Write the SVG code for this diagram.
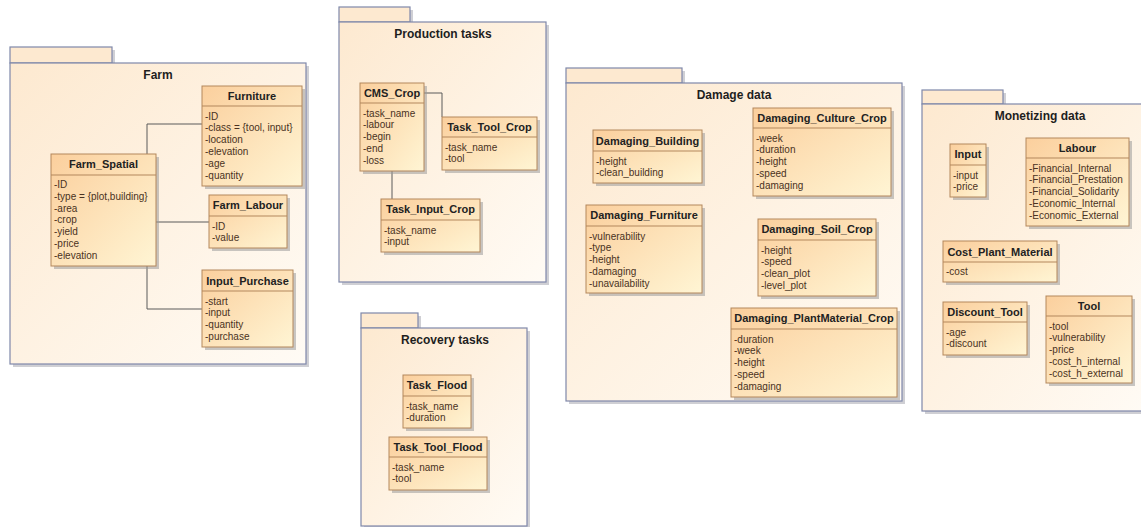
<svg xmlns="http://www.w3.org/2000/svg" width="1141" height="527" viewBox="0 0 1141 527">
<defs>
<linearGradient id="pg" x1="0" y1="0" x2="1" y2="1">
<stop offset="0" stop-color="#fde9d0"/>
<stop offset="1" stop-color="#fffbf5"/>
</linearGradient>
<linearGradient id="cg" x1="0" y1="0" x2="1" y2="1">
<stop offset="0" stop-color="#fbcf9d"/>
<stop offset="1" stop-color="#fff5d4"/>
</linearGradient>
<style>
.pkg{fill:url(#pg);stroke:#7f88aa;stroke-width:1.2}
.tab{fill:#fde9d0;stroke:#7f88aa;stroke-width:1.2}
.psh{fill:#a8a8b0;opacity:.55}
.csh{fill:#9a9a9a;opacity:.55}
.box{fill:url(#cg);stroke:#b3875c;stroke-width:1}
.sep{stroke:#b3875c;stroke-width:1}
.ptitle{font-family:"Liberation Sans",Arial,sans-serif;font-weight:bold;font-size:12px;fill:#1e1e1e;text-anchor:middle}
.title{font-family:"Liberation Sans",Arial,sans-serif;font-weight:bold;font-size:11px;fill:#222;text-anchor:middle}
.attr{font-family:"Liberation Sans",Arial,sans-serif;font-size:10px;fill:#4a3222}
.conn{fill:none;stroke:#5a5a5a;stroke-width:1}
</style>
</defs>
<rect width="1141" height="527" fill="#ffffff"/>

<!-- Packages -->
<g id="pkg-farm">
<rect class="psh" x="13" y="50" width="102" height="16"/>
<rect class="psh" x="13" y="66" width="296" height="301"/>
<rect class="tab" x="10" y="47" width="102" height="16"/>
<rect class="pkg" x="10" y="63" width="296" height="301"/>
<text class="ptitle" x="158" y="78.5">Farm</text>
</g>
<g id="pkg-production">
<rect class="psh" x="342" y="10" width="71" height="15"/>
<rect class="psh" x="342" y="25" width="207" height="260"/>
<rect class="tab" x="339" y="7" width="71" height="15"/>
<rect class="pkg" x="339" y="22" width="207" height="260"/>
<text class="ptitle" x="443" y="37.5">Production tasks</text>
</g>
<g id="pkg-recovery">
<rect class="psh" x="364" y="316" width="57" height="15"/>
<rect class="psh" x="364" y="331" width="166" height="198"/>
<rect class="tab" x="361" y="313" width="57" height="15"/>
<rect class="pkg" x="361" y="328" width="166" height="198"/>
<text class="ptitle" x="445" y="343.5">Recovery tasks</text>
</g>
<g id="pkg-damage">
<rect class="psh" x="569" y="71" width="116" height="15"/>
<rect class="psh" x="569" y="86" width="336" height="318"/>
<rect class="tab" x="566" y="68" width="116" height="15"/>
<rect class="pkg" x="566" y="83" width="336" height="318"/>
<text class="ptitle" x="734" y="98.5">Damage data</text>
</g>
<g id="pkg-monetizing">
<rect class="psh" x="925" y="93" width="81" height="14"/>
<rect class="psh" x="925" y="107" width="225" height="307"/>
<rect class="tab" x="922" y="90" width="81" height="14"/>
<rect class="pkg" x="922" y="104" width="225" height="307"/>
<text class="ptitle" x="1040" y="120">Monetizing data</text>
</g>

<!-- Connectors -->
<g id="connectors">
<path class="conn" d="M147,154 V124 H202"/>
<path class="conn" d="M156,222 H209"/>
<path class="conn" d="M147,266 V309 H202"/>
<path class="conn" d="M424,93 H442 V117"/>
<path class="conn" d="M392,171 V199"/>
</g>

<!-- Classes: Farm -->
<g id="Furniture">
<rect class="csh" x="205" y="89" width="100" height="100"/>
<rect class="box" x="202" y="86" width="100" height="100"/>
<line class="sep" x1="202" y1="106" x2="302" y2="106"/>
<text class="title" x="252" y="99.5">Furniture</text>
<text class="attr" x="205" y="119.5">-ID</text>
<text class="attr" x="205" y="131.3">-class = {tool, input}</text>
<text class="attr" x="205" y="143.1">-location</text>
<text class="attr" x="205" y="154.9">-elevation</text>
<text class="attr" x="205" y="166.7">-age</text>
<text class="attr" x="205" y="178.5">-quantity</text>
</g>
<g id="Farm_Spatial">
<rect class="csh" x="54" y="157" width="105" height="112"/>
<rect class="box" x="51" y="154" width="105" height="112"/>
<line class="sep" x1="51" y1="175" x2="156" y2="175"/>
<text class="title" x="103.5" y="168">Farm_Spatial</text>
<text class="attr" x="54" y="188">-ID</text>
<text class="attr" x="54" y="199.8">-type = {plot,building}</text>
<text class="attr" x="54" y="211.6">-area</text>
<text class="attr" x="54" y="223.4">-crop</text>
<text class="attr" x="54" y="235.2">-yield</text>
<text class="attr" x="54" y="247">-price</text>
<text class="attr" x="54" y="258.8">-elevation</text>
</g>
<g id="Farm_Labour">
<rect class="csh" x="212" y="198" width="78" height="53"/>
<rect class="box" x="209" y="195" width="78" height="53"/>
<line class="sep" x1="209" y1="216" x2="287" y2="216"/>
<text class="title" x="248" y="209">Farm_Labour</text>
<text class="attr" x="212" y="229.5">-ID</text>
<text class="attr" x="212" y="241.3">-value</text>
</g>
<g id="Input_Purchase">
<rect class="csh" x="205" y="273" width="91" height="77"/>
<rect class="box" x="202" y="270" width="91" height="77"/>
<line class="sep" x1="202" y1="291" x2="293" y2="291"/>
<text class="title" x="247.5" y="284.5">Input_Purchase</text>
<text class="attr" x="205" y="304.5">-start</text>
<text class="attr" x="205" y="316.3">-input</text>
<text class="attr" x="205" y="328.1">-quantity</text>
<text class="attr" x="205" y="339.9">-purchase</text>
</g>

<!-- Production tasks -->
<g id="CMS_Crop">
<rect class="csh" x="363" y="86" width="64" height="88"/>
<rect class="box" x="360" y="83" width="64" height="88"/>
<line class="sep" x1="360" y1="103" x2="424" y2="103"/>
<text class="title" x="392" y="97">CMS_Crop</text>
<text class="attr" x="363" y="116.5">-task_name</text>
<text class="attr" x="363" y="128.3">-labour</text>
<text class="attr" x="363" y="140.1">-begin</text>
<text class="attr" x="363" y="151.9">-end</text>
<text class="attr" x="363" y="163.7">-loss</text>
</g>
<g id="Task_Tool_Crop">
<rect class="csh" x="445" y="120" width="95" height="53"/>
<rect class="box" x="442" y="117" width="95" height="53"/>
<line class="sep" x1="442" y1="137" x2="537" y2="137"/>
<text class="title" x="489.5" y="131">Task_Tool_Crop</text>
<text class="attr" x="445" y="150.5">-task_name</text>
<text class="attr" x="445" y="162.3">-tool</text>
</g>
<g id="Task_Input_Crop">
<rect class="csh" x="384" y="202" width="99" height="53"/>
<rect class="box" x="381" y="199" width="99" height="53"/>
<line class="sep" x1="381" y1="220" x2="480" y2="220"/>
<text class="title" x="430.5" y="213">Task_Input_Crop</text>
<text class="attr" x="384" y="233.5">-task_name</text>
<text class="attr" x="384" y="245.3">-input</text>
</g>

<!-- Recovery tasks -->
<g id="Task_Flood">
<rect class="csh" x="406" y="378" width="68" height="53"/>
<rect class="box" x="403" y="375" width="68" height="53"/>
<line class="sep" x1="403" y1="396" x2="471" y2="396"/>
<text class="title" x="437" y="389">Task_Flood</text>
<text class="attr" x="406" y="409.5">-task_name</text>
<text class="attr" x="406" y="421.3">-duration</text>
</g>
<g id="Task_Tool_Flood">
<rect class="csh" x="392" y="440" width="98" height="53"/>
<rect class="box" x="389" y="437" width="98" height="53"/>
<line class="sep" x1="389" y1="457" x2="487" y2="457"/>
<text class="title" x="438" y="451">Task_Tool_Flood</text>
<text class="attr" x="392" y="470.5">-task_name</text>
<text class="attr" x="392" y="482.3">-tool</text>
</g>

<!-- Damage data -->
<g id="Damaging_Building">
<rect class="csh" x="596" y="133" width="109" height="53"/>
<rect class="box" x="593" y="130" width="109" height="53"/>
<line class="sep" x1="593" y1="151" x2="702" y2="151"/>
<text class="title" x="647.5" y="144.5">Damaging_Building</text>
<text class="attr" x="596" y="164.5">-height</text>
<text class="attr" x="596" y="176.3">-clean_building</text>
</g>
<g id="Damaging_Culture_Crop">
<rect class="csh" x="756" y="111" width="138" height="88"/>
<rect class="box" x="753" y="108" width="138" height="88"/>
<line class="sep" x1="753" y1="128" x2="891" y2="128"/>
<text class="title" x="822" y="122">Damaging_Culture_Crop</text>
<text class="attr" x="756" y="141.5">-week</text>
<text class="attr" x="756" y="153.3">-duration</text>
<text class="attr" x="756" y="165.1">-height</text>
<text class="attr" x="756" y="176.9">-speed</text>
<text class="attr" x="756" y="188.7">-damaging</text>
</g>
<g id="Damaging_Furniture">
<rect class="csh" x="589" y="208" width="116" height="88"/>
<rect class="box" x="586" y="205" width="116" height="88"/>
<line class="sep" x1="586" y1="226" x2="702" y2="226"/>
<text class="title" x="644" y="219">Damaging_Furniture</text>
<text class="attr" x="589" y="239.5">-vulnerability</text>
<text class="attr" x="589" y="251.3">-type</text>
<text class="attr" x="589" y="263.1">-height</text>
<text class="attr" x="589" y="274.9">-damaging</text>
<text class="attr" x="589" y="286.7">-unavailability</text>
</g>
<g id="Damaging_Soil_Crop">
<rect class="csh" x="761" y="222" width="118" height="77"/>
<rect class="box" x="758" y="219" width="118" height="77"/>
<line class="sep" x1="758" y1="240" x2="876" y2="240"/>
<text class="title" x="817" y="233">Damaging_Soil_Crop</text>
<text class="attr" x="761" y="253.5">-height</text>
<text class="attr" x="761" y="265.3">-speed</text>
<text class="attr" x="761" y="277.1">-clean_plot</text>
<text class="attr" x="761" y="288.9">-level_plot</text>
</g>
<g id="Damaging_PlantMaterial_Crop">
<rect class="csh" x="734" y="311" width="166" height="89"/>
<rect class="box" x="731" y="308" width="166" height="89"/>
<line class="sep" x1="731" y1="329" x2="897" y2="329"/>
<text class="title" x="814" y="322">Damaging_PlantMaterial_Crop</text>
<text class="attr" x="734" y="342.5">-duration</text>
<text class="attr" x="734" y="354.3">-week</text>
<text class="attr" x="734" y="366.1">-height</text>
<text class="attr" x="734" y="377.9">-speed</text>
<text class="attr" x="734" y="389.7">-damaging</text>
</g>

<!-- Monetizing data -->
<g id="Input">
<rect class="csh" x="953" y="147" width="36" height="53"/>
<rect class="box" x="950" y="144" width="36" height="53"/>
<line class="sep" x1="950" y1="165" x2="986" y2="165"/>
<text class="title" x="968" y="158">Input</text>
<text class="attr" x="953" y="178.5">-input</text>
<text class="attr" x="953" y="190.3">-price</text>
</g>
<g id="Labour">
<rect class="csh" x="1029" y="141" width="103" height="88"/>
<rect class="box" x="1026" y="138" width="103" height="88"/>
<line class="sep" x1="1026" y1="158" x2="1129" y2="158"/>
<text class="title" x="1077.5" y="152">Labour</text>
<text class="attr" x="1029" y="171.5">-Financial_Internal</text>
<text class="attr" x="1029" y="183.3">-Financial_Prestation</text>
<text class="attr" x="1029" y="195.1">-Financial_Solidarity</text>
<text class="attr" x="1029" y="206.9">-Economic_Internal</text>
<text class="attr" x="1029" y="218.7">-Economic_External</text>
</g>
<g id="Cost_Plant_Material">
<rect class="csh" x="946" y="244" width="114" height="41"/>
<rect class="box" x="943" y="241" width="114" height="41"/>
<line class="sep" x1="943" y1="262" x2="1057" y2="262"/>
<text class="title" x="1000" y="255.5">Cost_Plant_Material</text>
<text class="attr" x="946" y="275">-cost</text>
</g>
<g id="Discount_Tool">
<rect class="csh" x="946" y="305" width="84" height="53"/>
<rect class="box" x="943" y="302" width="84" height="53"/>
<line class="sep" x1="943" y1="322" x2="1027" y2="322"/>
<text class="title" x="985" y="316">Discount_Tool</text>
<text class="attr" x="946" y="335.5">-age</text>
<text class="attr" x="946" y="347.3">-discount</text>
</g>
<g id="Tool">
<rect class="csh" x="1049" y="299" width="86" height="87"/>
<rect class="box" x="1046" y="296" width="86" height="87"/>
<line class="sep" x1="1046" y1="316" x2="1132" y2="316"/>
<text class="title" x="1089" y="310">Tool</text>
<text class="attr" x="1049" y="329.5">-tool</text>
<text class="attr" x="1049" y="341.3">-vulnerability</text>
<text class="attr" x="1049" y="353.1">-price</text>
<text class="attr" x="1049" y="364.9">-cost_h_internal</text>
<text class="attr" x="1049" y="376.7">-cost_h_external</text>
</g>
</svg>
